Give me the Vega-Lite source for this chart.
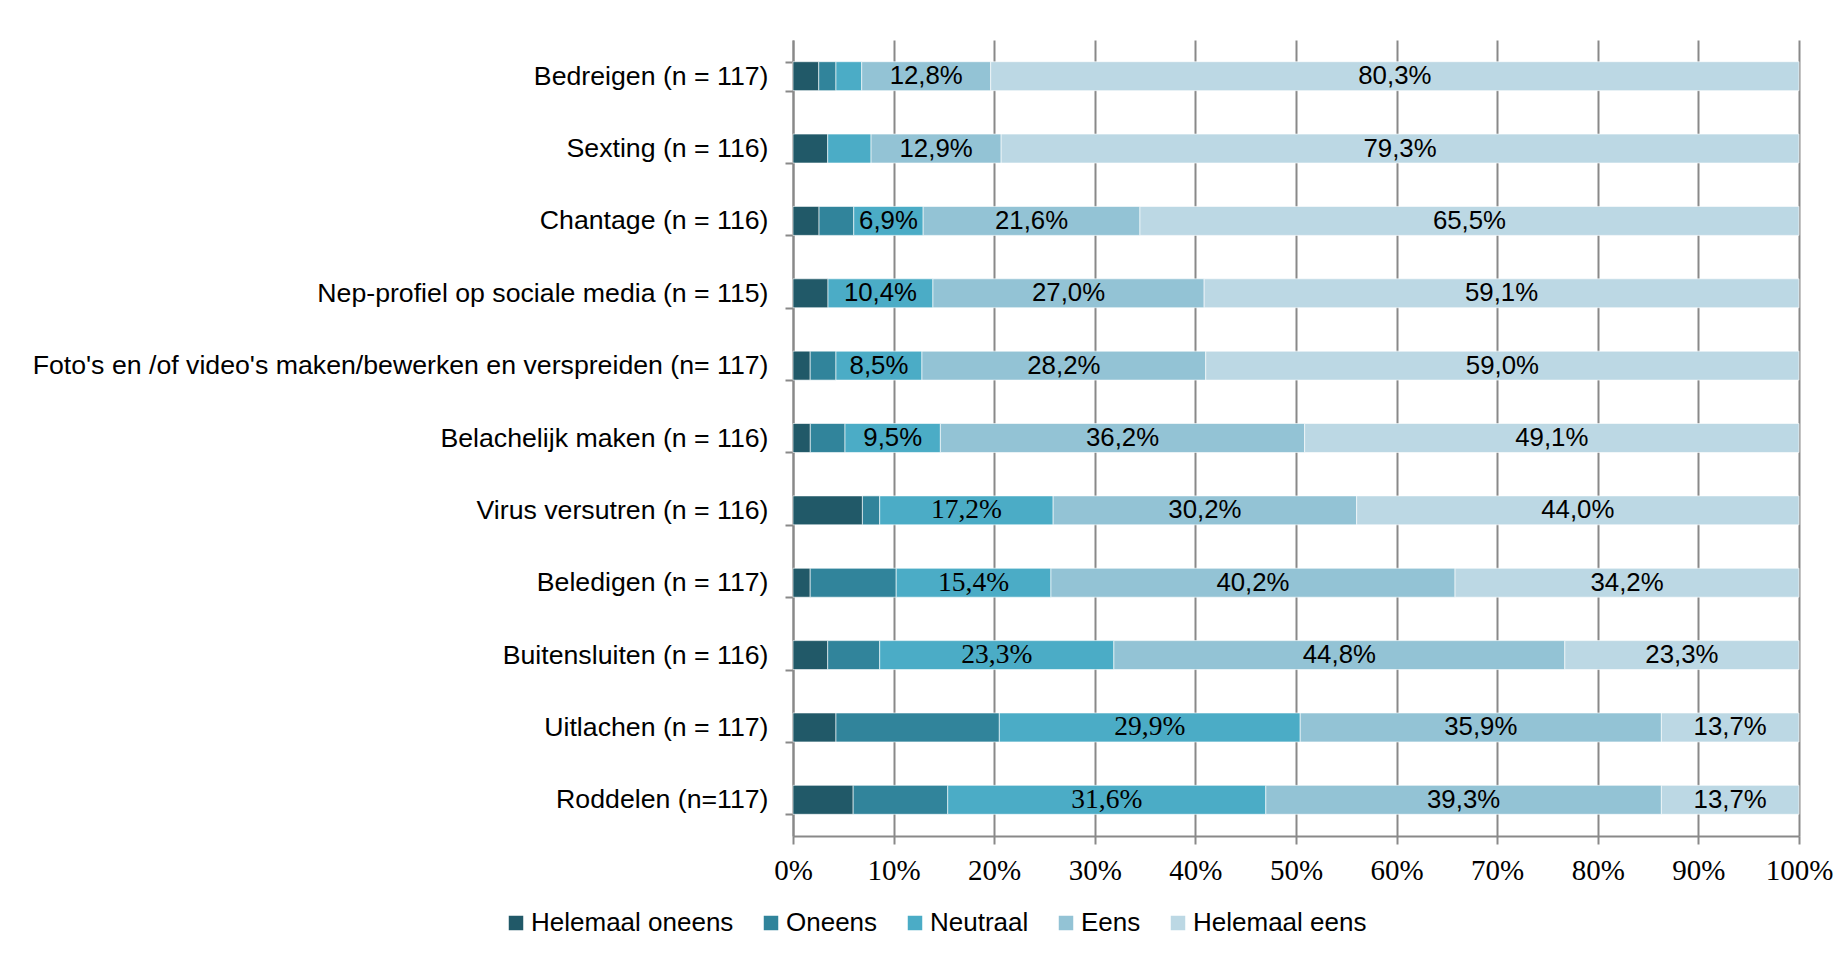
{
  "$schema": "https://vega.github.io/schema/vega-lite/v6.json",
  "width": 1006,
  "height": 796,
  "autosize": "none",
  "padding": {"left": 793, "top": 40, "right": 46, "bottom": 119},
  "background": "white",
  "config": {
    "locale": {"number": {"decimal": ",", "thousands": ".", "grouping": [3], "currency": ["€", ""]}},
    "view": {"stroke": null}
  },
  "data": {
    "values": [
      {"item": "Bedreigen (n = 117)", "cat": "Helemaal oneens", "pct": 2.56},
      {"item": "Bedreigen (n = 117)", "cat": "Oneens", "pct": 1.71},
      {"item": "Bedreigen (n = 117)", "cat": "Neutraal", "pct": 2.56},
      {"item": "Bedreigen (n = 117)", "cat": "Eens", "pct": 12.82},
      {"item": "Bedreigen (n = 117)", "cat": "Helemaal eens", "pct": 80.34},
      {"item": "Sexting (n = 116)", "cat": "Helemaal oneens", "pct": 3.45},
      {"item": "Sexting (n = 116)", "cat": "Neutraal", "pct": 4.31},
      {"item": "Sexting (n = 116)", "cat": "Eens", "pct": 12.93},
      {"item": "Sexting (n = 116)", "cat": "Helemaal eens", "pct": 79.31},
      {"item": "Chantage (n = 116)", "cat": "Helemaal oneens", "pct": 2.59},
      {"item": "Chantage (n = 116)", "cat": "Oneens", "pct": 3.45},
      {"item": "Chantage (n = 116)", "cat": "Neutraal", "pct": 6.9},
      {"item": "Chantage (n = 116)", "cat": "Eens", "pct": 21.552},
      {"item": "Chantage (n = 116)", "cat": "Helemaal eens", "pct": 65.52},
      {"item": "Nep-profiel op sociale media (n = 115)", "cat": "Helemaal oneens", "pct": 3.48},
      {"item": "Nep-profiel op sociale media (n = 115)", "cat": "Neutraal", "pct": 10.43},
      {"item": "Nep-profiel op sociale media (n = 115)", "cat": "Eens", "pct": 26.96},
      {"item": "Nep-profiel op sociale media (n = 115)", "cat": "Helemaal eens", "pct": 59.13},
      {"item": "Foto's en /of video's maken/bewerken en verspreiden (n= 117)", "cat": "Helemaal oneens", "pct": 1.71},
      {"item": "Foto's en /of video's maken/bewerken en verspreiden (n= 117)", "cat": "Oneens", "pct": 2.56},
      {"item": "Foto's en /of video's maken/bewerken en verspreiden (n= 117)", "cat": "Neutraal", "pct": 8.547},
      {"item": "Foto's en /of video's maken/bewerken en verspreiden (n= 117)", "cat": "Eens", "pct": 28.21},
      {"item": "Foto's en /of video's maken/bewerken en verspreiden (n= 117)", "cat": "Helemaal eens", "pct": 58.97},
      {"item": "Belachelijk maken (n = 116)", "cat": "Helemaal oneens", "pct": 1.72},
      {"item": "Belachelijk maken (n = 116)", "cat": "Oneens", "pct": 3.45},
      {"item": "Belachelijk maken (n = 116)", "cat": "Neutraal", "pct": 9.48},
      {"item": "Belachelijk maken (n = 116)", "cat": "Eens", "pct": 36.21},
      {"item": "Belachelijk maken (n = 116)", "cat": "Helemaal eens", "pct": 49.14},
      {"item": "Virus versutren (n = 116)", "cat": "Helemaal oneens", "pct": 6.9},
      {"item": "Virus versutren (n = 116)", "cat": "Oneens", "pct": 1.72},
      {"item": "Virus versutren (n = 116)", "cat": "Neutraal", "pct": 17.24},
      {"item": "Virus versutren (n = 116)", "cat": "Eens", "pct": 30.17},
      {"item": "Virus versutren (n = 116)", "cat": "Helemaal eens", "pct": 43.97},
      {"item": "Beledigen (n = 117)", "cat": "Helemaal oneens", "pct": 1.71},
      {"item": "Beledigen (n = 117)", "cat": "Oneens", "pct": 8.55},
      {"item": "Beledigen (n = 117)", "cat": "Neutraal", "pct": 15.38},
      {"item": "Beledigen (n = 117)", "cat": "Eens", "pct": 40.17},
      {"item": "Beledigen (n = 117)", "cat": "Helemaal eens", "pct": 34.19},
      {"item": "Buitensluiten (n = 116)", "cat": "Helemaal oneens", "pct": 3.45},
      {"item": "Buitensluiten (n = 116)", "cat": "Oneens", "pct": 5.17},
      {"item": "Buitensluiten (n = 116)", "cat": "Neutraal", "pct": 23.28},
      {"item": "Buitensluiten (n = 116)", "cat": "Eens", "pct": 44.83},
      {"item": "Buitensluiten (n = 116)", "cat": "Helemaal eens", "pct": 23.28},
      {"item": "Uitlachen (n = 117)", "cat": "Helemaal oneens", "pct": 4.27},
      {"item": "Uitlachen (n = 117)", "cat": "Oneens", "pct": 16.24},
      {"item": "Uitlachen (n = 117)", "cat": "Neutraal", "pct": 29.91},
      {"item": "Uitlachen (n = 117)", "cat": "Eens", "pct": 35.9},
      {"item": "Uitlachen (n = 117)", "cat": "Helemaal eens", "pct": 13.68},
      {"item": "Roddelen (n=117)", "cat": "Helemaal oneens", "pct": 5.98},
      {"item": "Roddelen (n=117)", "cat": "Oneens", "pct": 9.4},
      {"item": "Roddelen (n=117)", "cat": "Neutraal", "pct": 31.62},
      {"item": "Roddelen (n=117)", "cat": "Eens", "pct": 39.32},
      {"item": "Roddelen (n=117)", "cat": "Helemaal eens", "pct": 13.68}
    ]
  },
  "transform": [
    {"calculate": "datum.pct / 100", "as": "frac"},
    {"calculate": "indexof(['Helemaal oneens','Oneens','Neutraal','Eens','Helemaal eens'], datum.cat)", "as": "k"},
    {"stack": "pct", "groupby": ["item"], "sort": [{"field": "k", "order": "ascending"}], "offset": "normalize", "as": ["x0", "x1"]},
    {"calculate": "(datum.x0 + datum.x1) / 2", "as": "mid"}
  ],
  "encoding": {
    "y": {
      "field": "item",
      "type": "nominal",
      "sort": [
        "Bedreigen (n = 117)",
        "Sexting (n = 116)",
        "Chantage (n = 116)",
        "Nep-profiel op sociale media (n = 115)",
        "Foto's en /of video's maken/bewerken en verspreiden (n= 117)",
        "Belachelijk maken (n = 116)",
        "Virus versutren (n = 116)",
        "Beledigen (n = 117)",
        "Buitensluiten (n = 116)",
        "Uitlachen (n = 117)",
        "Roddelen (n=117)"
      ],
      "scale": {"paddingInner": 0.6, "paddingOuter": 0.3},
      "axis": {
        "title": null,
        "grid": false,
        "domainColor": "#898989",
        "domainWidth": 2,
        "tickColor": "#898989",
        "tickWidth": 2,
        "tickSize": 8,
        "tickBand": "extent",
        "tickExtra": true,
        "labelFont": "Liberation Sans",
        "labelFontSize": 26.7,
        "labelColor": "#000000",
        "labelPadding": 17,
        "labelLimit": 0
      }
    }
  },
  "layer": [
    {
      "mark": {"type": "bar", "stroke": "white", "strokeWidth": 1, "strokeOpacity": 0.6},
      "encoding": {
        "x": {
          "field": "x0",
          "type": "quantitative",
          "scale": {"domain": [0, 1], "nice": false},
          "axis": {
            "title": null,
            "format": ".0%",
            "values": [0, 0.1, 0.2, 0.3, 0.4, 0.5, 0.6, 0.7, 0.8, 0.9, 1],
            "grid": true,
            "gridColor": "#898989",
            "gridWidth": 2,
            "domainColor": "#898989",
            "domainWidth": 2,
            "tickColor": "#898989",
            "tickWidth": 2,
            "tickSize": 8,
            "labelFont": "Liberation Serif",
            "labelFontSize": 29,
            "labelColor": "#000000",
            "labelPadding": 12,
            "labelFlush": false
          }
        },
        "x2": {"field": "x1"},
        "color": {
          "field": "cat",
          "type": "nominal",
          "scale": {
            "domain": ["Helemaal oneens", "Oneens", "Neutraal", "Eens", "Helemaal eens"],
            "range": ["#215968", "#31849B", "#4BACC6", "#93C3D5", "#BCD8E4"]
          },
          "legend": {
            "title": null,
            "orient": "none",
            "legendX": -290,
            "legendY": 870,
            "direction": "horizontal",
            "columns": 5,
            "columnPadding": 24,
            "padding": 0,
            "symbolType": "square",
            "symbolSize": 210,
            "symbolStrokeWidth": 0,
            "labelFont": "Liberation Sans",
            "labelFontSize": 26,
            "labelColor": "#000000",
            "labelOffset": 2,
            "labelLimit": 0
          }
        }
      }
    },
    {
      "transform": [
        {"filter": "datum.k >= 2 && datum.pct > 5 && !(datum.k == 2 && indexof(['Virus versutren (n = 116)','Beledigen (n = 117)','Buitensluiten (n = 116)','Uitlachen (n = 117)','Roddelen (n=117)'], datum.item) >= 0)"}
      ],
      "mark": {"type": "text", "font": "Liberation Sans", "fontSize": 25.8, "color": "#000000", "baseline": "middle", "align": "center"},
      "encoding": {
        "x": {"field": "mid", "type": "quantitative"},
        "text": {"field": "frac", "type": "quantitative", "format": ".1%"}
      }
    },
    {
      "transform": [
        {"filter": "datum.k == 2 && indexof(['Virus versutren (n = 116)','Beledigen (n = 117)','Buitensluiten (n = 116)','Uitlachen (n = 117)','Roddelen (n=117)'], datum.item) >= 0"}
      ],
      "mark": {"type": "text", "font": "Liberation Serif", "fontSize": 27.5, "color": "#000000", "baseline": "middle", "align": "center"},
      "encoding": {
        "x": {"field": "mid", "type": "quantitative"},
        "text": {"field": "frac", "type": "quantitative", "format": ".1%"}
      }
    }
  ]
}
